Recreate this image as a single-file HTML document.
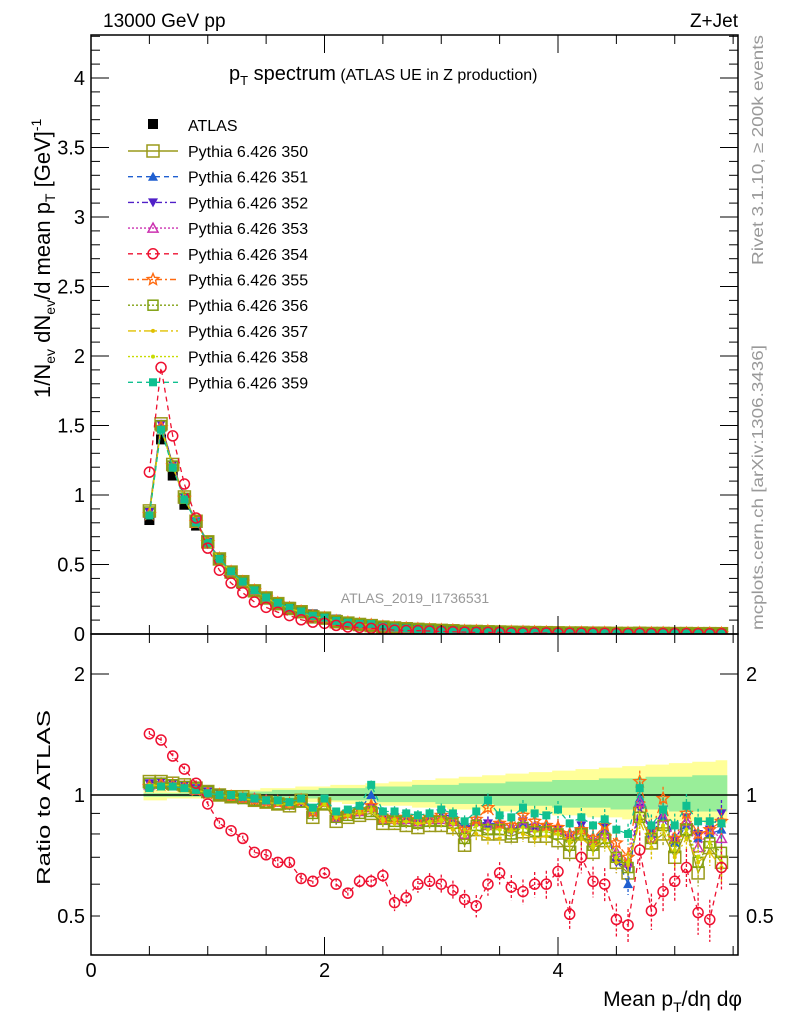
<!DOCTYPE html>
<html><head><meta charset="utf-8">
<style>
html,body{margin:0;padding:0;background:#fff;}
svg{display:block;font-family:"Liberation Sans",Arial,sans-serif;}
</style></head>
<body>
<svg id="c" width="786" height="1024" viewBox="0 0 786 1024" xmlns="http://www.w3.org/2000/svg">
<rect x="0" y="0" width="786" height="1024" fill="#fff"/>
<text x="103" y="27" font-size="19">13000 GeV pp</text>
<text x="738" y="27" font-size="19" text-anchor="end">Z+Jet</text>
<text x="229" y="80" font-size="20">p<tspan font-size="13" dy="5">T</tspan><tspan dy="-5"> spectrum</tspan><tspan font-size="16"> (ATLAS UE in Z production)</tspan></text>
<text x="415" y="603" font-size="14" fill="#999" text-anchor="middle">ATLAS_2019_I1736531</text>
<text transform="translate(763,265) rotate(-90)" font-size="16" fill="#999" textLength="230" lengthAdjust="spacingAndGlyphs">Rivet 3.1.10, ≥ 200k events</text>
<text transform="translate(763,630) rotate(-90)" font-size="16" fill="#999" textLength="285" lengthAdjust="spacingAndGlyphs">mcplots.cern.ch [arXiv:1306.3436]</text>
<text transform="translate(50,398) rotate(-90)" font-size="22">1/N<tspan font-size="14" dy="5">ev</tspan><tspan dy="-5"> dN</tspan><tspan font-size="14" dy="5">ev</tspan><tspan dy="-5">/d mean p</tspan><tspan font-size="14" dy="5">T</tspan><tspan dy="-5"> [GeV]</tspan><tspan font-size="14" dy="-9">-1</tspan></text>
<text transform="translate(50,885) rotate(-90)" font-size="18" textLength="175" lengthAdjust="spacingAndGlyphs">Ratio to ATLAS</text>
<text x="742" y="1006" font-size="21" text-anchor="end">Mean p<tspan font-size="14" dy="6">T</tspan><tspan dy="-6">/dη dφ</tspan></text>
<g id="bands"></g>
<g id="plots"></g>
<g id="axes"></g>
<g id="legend"></g>
</svg>
<script>
const xs = [0.5,0.6,0.7,0.8,0.9,1.0,1.1,1.2,1.3,1.4,1.5,1.6,1.7,1.8,1.9,2.0,2.1,2.2,2.3,2.4,2.5,2.6,2.7,2.8,2.9,3.0,3.1,3.2,3.3,3.4,3.5,3.6,3.7,3.8,3.9,4.0,4.1,4.2,4.3,4.4,4.5,4.6,4.7,4.8,4.9,5.0,5.1,5.2,5.3,5.4];
const atlas = [0.82,1.40,1.14,0.93,0.78,0.65,0.54,0.45,0.38,0.32,0.27,0.23,0.195,0.165,0.14,0.12,0.103,0.089,0.077,0.067,0.058,0.051,0.045,0.040,0.035,0.031,0.028,0.025,0.022,0.020,0.018,0.016,0.0145,0.013,0.012,0.011,0.010,0.009,0.0082,0.0075,0.0068,0.0062,0.0057,0.0052,0.0048,0.0044,0.004,0.0037,0.0034,0.0031];
const bandInnerLo = [0.99,0.99,0.99,0.99,0.99,0.99,0.99,0.99,0.99,0.99,0.98,0.98,0.98,0.98,0.98,0.97,0.97,0.97,0.97,0.97,0.96,0.96,0.96,0.96,0.96,0.95,0.95,0.95,0.95,0.95,0.94,0.94,0.94,0.94,0.94,0.93,0.93,0.93,0.93,0.93,0.92,0.92,0.92,0.92,0.92,0.91,0.91,0.91,0.91,0.91];
const bandInnerHi = [1.01,1.01,1.01,1.01,1.01,1.01,1.01,1.02,1.02,1.02,1.02,1.03,1.03,1.03,1.03,1.04,1.04,1.04,1.04,1.05,1.05,1.05,1.05,1.06,1.06,1.06,1.06,1.07,1.07,1.07,1.07,1.08,1.08,1.08,1.08,1.09,1.09,1.09,1.09,1.10,1.10,1.10,1.10,1.11,1.11,1.11,1.11,1.12,1.12,1.12];
const bandOuterLo = [0.97,0.97,0.98,0.98,0.98,0.98,0.98,0.98,0.98,0.97,0.97,0.97,0.97,0.97,0.96,0.96,0.96,0.95,0.95,0.95,0.94,0.94,0.94,0.93,0.93,0.93,0.92,0.92,0.92,0.91,0.91,0.91,0.90,0.90,0.90,0.89,0.89,0.89,0.88,0.88,0.88,0.87,0.87,0.87,0.86,0.86,0.86,0.86,0.85,0.85];
const bandOuterHi = [1.03,1.03,1.02,1.02,1.02,1.02,1.02,1.03,1.03,1.03,1.04,1.04,1.04,1.05,1.05,1.05,1.06,1.06,1.06,1.07,1.07,1.08,1.08,1.09,1.09,1.10,1.10,1.11,1.11,1.12,1.12,1.13,1.13,1.14,1.14,1.15,1.15,1.16,1.16,1.17,1.17,1.18,1.18,1.19,1.19,1.20,1.20,1.21,1.21,1.22];
const relErr = [0.01,0.01,0.01,0.01,0.01,0.01,0.01,0.01,0.01,0.01,0.015,0.015,0.015,0.015,0.02,0.02,0.02,0.02,0.025,0.025,0.025,0.03,0.03,0.03,0.03,0.035,0.035,0.035,0.04,0.04,0.04,0.045,0.045,0.045,0.05,0.05,0.05,0.055,0.055,0.06,0.06,0.06,0.065,0.065,0.07,0.07,0.07,0.075,0.075,0.08];
const r350 = [1.08,1.08,1.07,1.06,1.04,1.02,1.0,0.99,0.99,0.97,0.96,0.95,0.94,0.97,0.88,0.95,0.86,0.88,0.89,0.90,0.85,0.85,0.84,0.83,0.84,0.84,0.83,0.75,0.82,0.80,0.80,0.79,0.81,0.79,0.79,0.77,0.72,0.80,0.72,0.77,0.68,0.64,0.90,0.76,0.80,0.70,0.82,0.64,0.74,0.68];
const r351 = [1.05,1.06,1.06,1.05,1.03,1.01,1.0,0.99,0.98,0.98,0.97,0.96,0.96,0.98,0.92,0.97,0.89,0.91,0.92,1.00,0.89,0.89,0.88,0.87,0.88,0.89,0.87,0.82,0.86,0.85,0.85,0.84,0.85,0.84,0.84,0.83,0.80,0.84,0.78,0.82,0.70,0.60,0.98,0.80,0.88,0.76,0.84,0.78,0.80,0.82];
const r352 = [1.07,1.08,1.07,1.06,1.04,1.02,1.01,1.0,0.99,0.97,0.97,0.96,0.94,0.96,0.91,0.96,0.87,0.90,0.91,0.93,0.88,0.88,0.87,0.86,0.87,0.90,0.88,0.83,0.85,0.85,0.84,0.81,0.86,0.83,0.83,0.82,0.78,0.84,0.76,0.83,0.68,0.66,0.93,0.81,0.92,0.77,0.88,0.80,0.82,0.90];
const r353 = [1.06,1.07,1.06,1.05,1.03,1.02,1.0,0.99,0.98,0.98,0.97,0.96,0.95,0.97,0.91,0.96,0.88,0.90,0.91,0.93,0.87,0.87,0.87,0.86,0.87,0.87,0.86,0.80,0.86,0.84,0.85,0.83,0.85,0.83,0.84,0.82,0.79,0.82,0.77,0.80,0.72,0.68,0.96,0.78,0.88,0.78,0.86,0.74,0.82,0.78];
const r354 = [1.42,1.37,1.25,1.16,1.07,0.95,0.85,0.815,0.78,0.72,0.71,0.68,0.68,0.62,0.61,0.64,0.60,0.57,0.61,0.61,0.63,0.54,0.555,0.60,0.61,0.60,0.58,0.55,0.53,0.60,0.64,0.59,0.575,0.60,0.60,0.645,0.505,0.70,0.61,0.60,0.49,0.475,0.73,0.515,0.575,0.61,0.66,0.51,0.49,0.66];
const r355 = [1.05,1.06,1.06,1.05,1.03,1.01,1.0,0.99,0.98,0.97,0.96,0.96,0.95,0.97,0.91,0.96,0.89,0.90,0.92,0.94,0.88,0.88,0.88,0.87,0.88,0.89,0.87,0.82,0.87,0.93,0.85,0.84,0.89,0.86,0.84,0.83,0.80,0.82,0.78,0.84,0.76,0.70,1.08,0.82,0.98,0.78,0.90,0.80,0.82,0.86];
const r356 = [1.07,1.07,1.06,1.05,1.04,1.02,1.0,0.99,0.98,0.97,0.96,0.95,0.95,0.96,0.90,0.95,0.88,0.89,0.90,0.91,0.87,0.86,0.86,0.85,0.86,0.86,0.85,0.78,0.84,0.82,0.82,0.80,0.83,0.81,0.81,0.80,0.75,0.80,0.75,0.78,0.70,0.66,0.88,0.78,0.84,0.74,0.82,0.68,0.76,0.72];
const r357 = [1.05,1.06,1.06,1.05,1.03,1.01,1.0,0.99,0.98,0.97,0.96,0.95,0.94,0.96,0.91,0.95,0.88,0.89,0.90,0.91,0.86,0.85,0.86,0.85,0.85,0.86,0.82,0.82,0.80,0.78,0.78,0.82,0.80,0.78,0.79,0.80,0.76,0.78,0.74,0.77,0.68,0.67,0.86,0.74,0.82,0.70,0.78,0.68,0.72,0.66];
const r358 = [1.06,1.06,1.06,1.05,1.03,1.01,1.0,0.99,0.98,0.97,0.96,0.95,0.95,0.96,0.91,0.95,0.88,0.89,0.91,0.92,0.87,0.87,0.86,0.85,0.86,0.87,0.85,0.79,0.84,0.82,0.82,0.81,0.83,0.81,0.81,0.80,0.77,0.81,0.75,0.79,0.70,0.68,0.88,0.78,0.84,0.73,0.82,0.70,0.76,0.68];
const r359 = [1.04,1.05,1.05,1.04,1.03,1.01,1.0,1.0,0.99,0.98,0.97,0.97,0.96,0.98,0.93,0.98,0.91,0.92,0.94,1.06,0.91,0.91,0.90,0.89,0.90,0.92,0.90,0.86,0.91,0.97,0.89,0.88,0.93,0.90,0.89,0.92,0.85,0.88,0.84,0.87,0.82,0.80,1.04,0.84,0.92,0.84,0.94,0.86,0.86,0.85];
const legendLabels = ["Pythia 6.426 350","Pythia 6.426 351","Pythia 6.426 352","Pythia 6.426 353","Pythia 6.426 354","Pythia 6.426 355","Pythia 6.426 356","Pythia 6.426 357","Pythia 6.426 358","Pythia 6.426 359"];

const NS="http://www.w3.org/2000/svg";
const X0=91,X1=738,MT=35,MB=634,RT=634,RB=955;
const xScale=v=>X0+v*116.75;
const yMain=v=>634-v*139;
const yRat=v=>795-402*Math.log10(v);
function el(tag,attrs,parent){const e=document.createElementNS(NS,tag);for(const k in attrs)e.setAttribute(k,attrs[k]);parent.appendChild(e);return e;}
const series=[
 {d:r350,c:"#9a9a1a",m:"osq",dash:"",s:6},
 {d:r351,c:"#1f5fd0",m:"tri",dash:"5,4",s:5},
 {d:r352,c:"#5020c8",m:"itri",dash:"6,3,2,3",s:5},
 {d:r353,c:"#cc30b0",m:"otri",dash:"2,2",s:5},
 {d:r355,c:"#ff6a10",m:"star",dash:"6,3,2,3",s:6},
 {d:r356,c:"#80a010",m:"osq",dash:"2,2",s:5},
 {d:r357,c:"#e0c000",m:"dot",dash:"8,3,2,3",s:2},
 {d:r358,c:"#c8dc00",m:"dot",dash:"2,2",s:2},
 {d:r359,c:"#10c090",m:"fsq",dash:"5,4",s:4},
 {d:r354,c:"#ee1030",m:"circ",dash:"5,4",s:5}
];
const legOrder=[0,1,2,3,9,4,5,6,7,8];
function marker(g,m,x,y,c,s){
 if(m==="osq")el("rect",{x:x-s,y:y-s,width:2*s,height:2*s,fill:"none",stroke:c,"stroke-width":1.5},g);
 else if(m==="fsq")el("rect",{x:x-s,y:y-s,width:2*s,height:2*s,fill:c},g);
 else if(m==="tri")el("polygon",{points:`${x},${y-s} ${x-s},${y+s*0.8} ${x+s},${y+s*0.8}`,fill:c},g);
 else if(m==="itri")el("polygon",{points:`${x},${y+s} ${x-s},${y-s*0.8} ${x+s},${y-s*0.8}`,fill:c},g);
 else if(m==="otri")el("polygon",{points:`${x},${y-s} ${x-s},${y+s*0.8} ${x+s},${y+s*0.8}`,fill:"none",stroke:c,"stroke-width":1.5},g);
 else if(m==="circ")el("circle",{cx:x,cy:y,r:s,fill:"none",stroke:c,"stroke-width":1.5},g);
 else if(m==="dot")el("circle",{cx:x,cy:y,r:s,fill:c},g);
 else if(m==="star"){let p=[];for(let i=0;i<10;i++){const a=-Math.PI/2+i*Math.PI/5,r=i%2?s*0.45:s;p.push((x+r*Math.cos(a)).toFixed(1)+","+(y+r*Math.sin(a)).toFixed(1));}
  el("polygon",{points:p.join(" "),fill:"none",stroke:c,"stroke-width":1.4},g);}
}
const bands=document.getElementById("bands");
function band(lo,hi,col,name){let top="",bot="";
 for(let i=0;i<xs.length;i++){const xa=xScale(xs[i]-0.05),xb=xScale(xs[i]+0.05);top+=`${xa},${yRat(hi[i])} ${xb},${yRat(hi[i])} `;}
 for(let i=xs.length-1;i>=0;i--){const xa=xScale(xs[i]-0.05),xb=xScale(xs[i]+0.05);bot+=`${xb},${yRat(lo[i])} ${xa},${yRat(lo[i])} `;}
 const p=el("polygon",{points:top+bot,fill:col},bands);
 
 
}
band(bandOuterLo,bandOuterHi,"#ffff99","ratio-total-uncertainty-band");
band(bandInnerLo,bandInnerHi,"#99ee99","ratio-stat-uncertainty-band");
const plots=document.getElementById("plots");
const clipM=el("clipPath",{id:"cm"},plots);el("rect",{x:X0,y:MT,width:X1-X0,height:MB-MT},clipM);
const clipR=el("clipPath",{id:"cr"},plots);el("rect",{x:X0,y:RT,width:X1-X0,height:RB-RT},clipR);
el("line",{x1:X0,y1:yRat(1),x2:X1,y2:yRat(1),stroke:"#000","stroke-width":1.5},plots);
const gm=el("g",{"clip-path":"url(#cm)"},plots);
const gr=el("g",{"clip-path":"url(#cr)"},plots);
for(let i=0;i<xs.length;i++){
 const r=el("rect",{x:xScale(xs[i])-5,y:yMain(atlas[i])-5,width:10,height:10,fill:"#000"},gm);
 
 
}
series.forEach((S,si)=>{
 const gM=el("g",{},gm), gR=el("g",{},gr);
 
 
 
 
 let pm=[],pr=[];
 for(let i=0;i<xs.length;i++){pm.push(xScale(xs[i])+","+yMain(atlas[i]*S.d[i]));pr.push(xScale(xs[i])+","+yRat(S.d[i]));}
 el("polyline",{points:pm.join(" "),fill:"none",stroke:S.c,"stroke-width":1.3,"stroke-dasharray":S.dash},gM);
 el("polyline",{points:pr.join(" "),fill:"none",stroke:S.c,"stroke-width":1.3,"stroke-dasharray":S.dash},gR);
 for(let i=0;i<xs.length;i++){
  const x=xScale(xs[i]);
  marker(gM,S.m,x,yMain(atlas[i]*S.d[i]),S.c,S.s);
  const e=S.d[i]*relErr[i]*(S.m==="circ"?1.6:1);
  el("line",{x1:x,y1:yRat(S.d[i]+e),x2:x,y2:yRat(Math.max(0.3,S.d[i]-e)),stroke:S.c,"stroke-width":1.3,"stroke-dasharray":"3,2"},gR);
  marker(gR,S.m,x,yRat(S.d[i]),S.c,S.s);
 }
});
const ax=document.getElementById("axes");
el("rect",{x:X0,y:MT,width:X1-X0,height:MB-MT,fill:"none",stroke:"#000","stroke-width":1.5},ax);
el("rect",{x:X0,y:RT,width:X1-X0,height:RB-RT,fill:"none",stroke:"#000","stroke-width":1.5},ax);
function tick(x1,y1,x2,y2){el("line",{x1,y1,x2,y2,stroke:"#000","stroke-width":1},ax);}
const mainTicks=["0","0.5","1","1.5","2","2.5","3","3.5","4"];
for(let k=0;k<=43;k++){const v=k*0.1,y=yMain(v),L=(k%5===0)?18:9;tick(X0,y,X0+L,y);tick(X1,y,X1-L,y);}
mainTicks.forEach(t=>{const tx=el("text",{x:X0-6,y:yMain(+t)+7,"font-size":20,"text-anchor":"end"},ax);tx.textContent=t;
 
 });
const ratMinor=[0.4,0.5,0.6,0.7,0.8,0.9,1,2];
ratMinor.forEach(v=>{const y=yRat(v),L=(v===1||v===2)?18:9;tick(X0,y,X0+L,y);tick(X1,y,X1-L,y);});
const ratTicks=["0.5","1","2"];
ratTicks.forEach(t=>{const y=yRat(+t)+7;
 const a=el("text",{x:X0-6,y,"font-size":20,"text-anchor":"end"},ax);a.textContent=t;
 
 
 const b=el("text",{x:X1+8,y,"font-size":20},ax);b.textContent=t;
 
 });
for(let k=0;k<=11;k++){const x=xScale(k*0.5),L=(k%4===0)?18:9;
 tick(x,RB,x,RB-L);tick(x,MT,x,MT+L);tick(x,MB,x,MB-L);tick(x,RT,x,RT+L);}
const xTicks=["0","2","4"];
xTicks.forEach(t=>{const tx=el("text",{x:xScale(+t),y:977,"font-size":20,"text-anchor":"middle"},ax);tx.textContent=t;
 
 });
const lg=document.getElementById("legend");
el("rect",{x:148,y:119,width:10,height:10,fill:"#000"},lg);
const lt=el("text",{x:188,y:131,"font-size":16},lg);lt.textContent="ATLAS";


legOrder.forEach((si,j)=>{const S=series[si],y=151+j*25.7;
 const g=el("g",{},lg);
 
 
 el("line",{x1:128,y1:y,x2:178,y2:y,stroke:S.c,"stroke-width":1.4,"stroke-dasharray":S.dash},g);
 marker(g,S.m,153,y,S.c,S.s);
 const t=el("text",{x:188,y:y+6,"font-size":16},g);t.textContent=legendLabels[j];
});
</script>
</body></html>
